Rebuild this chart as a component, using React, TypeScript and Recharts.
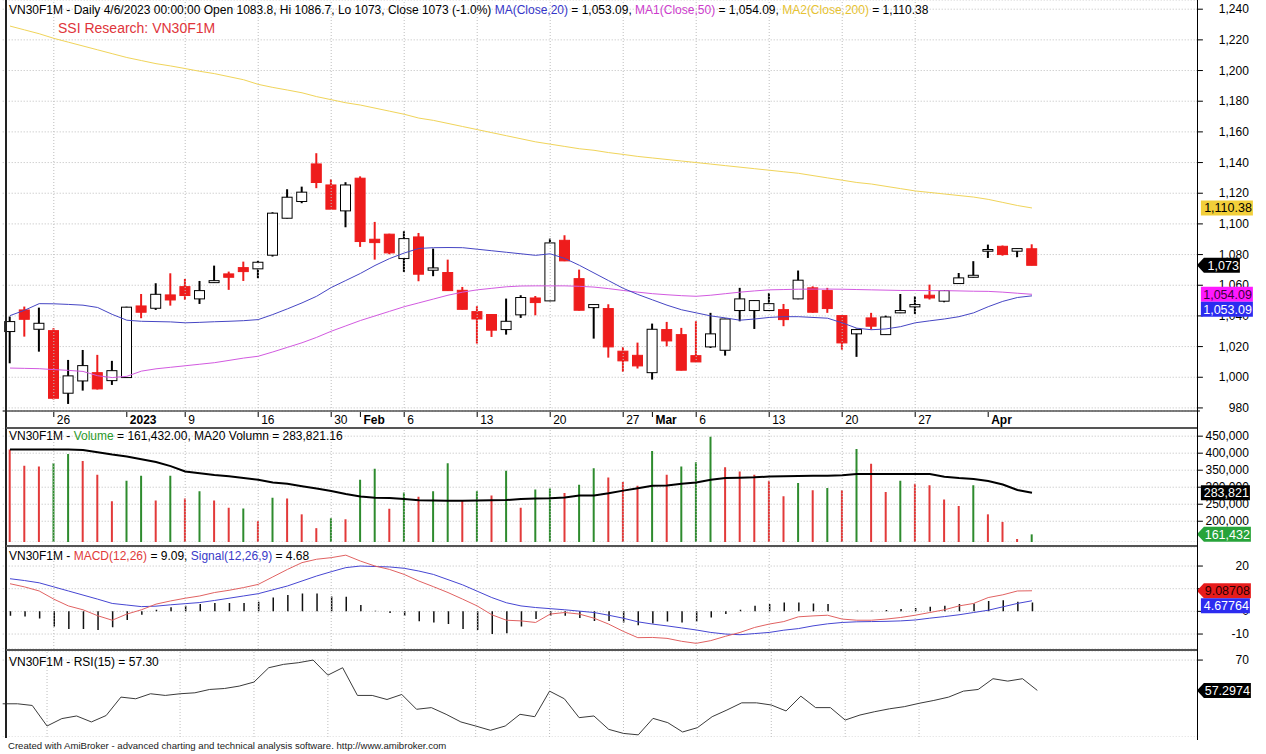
import React from "react";
import {
  ComposedChart,
  Bar,
  Line,
  XAxis,
  YAxis,
  CartesianGrid,
  ReferenceLine,
  Cell,
} from "recharts";

const FONT = '"Liberation Sans", Arial, sans-serif';
const RED = "#ee1c1c";
const GREEN = "#2e8b2e";
const GRID = "#bdbdbd";

// x axis: bar index -> label (weekly Mondays + month starts)
const tickIdx = [3, 8, 12, 17, 22, 24, 27, 32, 37, 42, 44, 47, 52, 57, 62, 67];
const tickLab = ["26", "2023", "9", "16", "30", "Feb", "6", "13", "20", "27", "Mar", "6", "13", "20", "27", "Apr"];
const boldLab = ["2023", "Feb", "Mar", "Apr"];
const gridIdx = [3, 12, 17, 22, 27, 32, 37, 42, 47, 52, 57, 62];

// OHLC, 21 Dec 2022 .. 6 Apr 2023
const opens = [
  1029.8, 1043.9, 1031.3, 1030.4, 989.6, 997.6, 1003.0, 997.8, 999.8, 1046.5,
  1045.0, 1053.7, 1059.1, 1051.1, 1061.7, 1067.4, 1071.5, 1070.7, 1079.6, 1103.7,
  1114.6, 1139.1, 1125.4, 1108.5, 1129.8, 1090.0, 1093.3, 1077.4, 1091.5, 1069.8,
  1068.3, 1056.7, 1042.8, 1040.9, 1031.1, 1040.7, 1051.7, 1049.8, 1089.3, 1064.3,
  1045.4, 1044.8, 1017.0, 1014.3, 1003.0, 1031.1, 1027.8, 1014.1, 1019.8, 1017.6,
  1043.5, 1043.5, 1043.5, 1044.1, 1051.1, 1058.3, 1056.5, 1040.2, 1028.3, 1038.7,
  1027.8, 1042.0, 1045.9, 1053.5, 1049.6, 1061.1, 1065.2, 1082.2, 1085.4, 1082.2,
  1083.8,
];
const highs = [
  1039.6, 1046.1, 1045.4, 1032.0, 1011.3, 1017.8, 1014.6, 1010.7, 1046.0, 1054.3,
  1061.3, 1067.8, 1064.1, 1062.8, 1072.8, 1068.9, 1075.4, 1075.9, 1107.6, 1122.6,
  1124.3, 1146.1, 1129.1, 1127.2, 1131.0, 1101.3, 1093.6, 1095.2, 1094.1, 1083.9,
  1076.7, 1058.9, 1046.3, 1041.2, 1051.3, 1053.5, 1053.0, 1090.4, 1092.6, 1070.2,
  1047.6, 1047.6, 1019.8, 1022.6, 1035.0, 1036.1, 1032.2, 1036.5, 1042.0, 1038.2,
  1058.3, 1050.2, 1055.0, 1047.8, 1069.6, 1059.3, 1058.3, 1040.4, 1031.7, 1042.0,
  1040.2, 1054.3, 1052.8, 1060.4, 1056.7, 1068.0, 1075.7, 1086.5, 1085.9, 1083.9,
  1086.7,
];
const lows = [
  1009.1, 1026.5, 1016.7, 985.5, 982.6, 991.3, 992.0, 995.0, 999.6, 1038.5,
  1043.9, 1046.7, 1050.4, 1047.8, 1061.5, 1057.0, 1062.8, 1064.6, 1078.7, 1103.5,
  1113.5, 1123.3, 1109.4, 1097.8, 1085.0, 1076.7, 1080.2, 1068.7, 1062.6, 1065.9,
  1056.3, 1044.1, 1022.0, 1026.3, 1027.8, 1038.7, 1040.4, 1049.6, 1075.7, 1043.5,
  1025.2, 1012.8, 1003.5, 1005.7, 998.5, 1020.2, 1004.4, 1009.8, 1019.1, 1014.1,
  1036.5, 1031.5, 1043.3, 1033.3, 1050.9, 1042.0, 1042.0, 1018.0, 1013.3, 1031.1,
  1027.6, 1041.8, 1041.3, 1050.7, 1048.9, 1060.9, 1065.0, 1077.8, 1079.3, 1078.3,
  1073.0,
];
const closes = [
  1036.3, 1037.8, 1035.2, 986.3, 1000.9, 1007.6, 992.4, 1004.3, 1045.7, 1042.4,
  1054.1, 1050.4, 1053.3, 1056.5, 1063.0, 1065.2, 1068.9, 1075.0, 1107.0, 1117.4,
  1120.7, 1127.0, 1109.6, 1125.4, 1088.5, 1087.8, 1081.1, 1090.4, 1067.2, 1071.3,
  1056.5, 1044.3, 1038.0, 1030.7, 1036.5, 1052.0, 1048.7, 1087.6, 1075.9, 1043.7,
  1047.4, 1019.8, 1010.7, 1007.4, 1031.3, 1023.7, 1004.6, 1010.0, 1028.3, 1038.0,
  1051.1, 1050.0, 1048.0, 1037.6, 1063.3, 1042.4, 1044.8, 1022.4, 1031.1, 1033.3,
  1039.3, 1043.5, 1047.4, 1051.7, 1056.5, 1064.8, 1066.5, 1083.3, 1080.0, 1083.9,
  1073.0,
];
const ma20 = [
  1040.2, 1043.7, 1048.0, 1047.9, 1047.5, 1047.0, 1045.5, 1041.0, 1037.2, 1036.5,
  1036.3, 1036.1, 1035.5, 1035.8, 1036.2, 1036.5, 1036.9, 1037.6, 1040.9, 1044.6,
  1048.5, 1052.8, 1058.5, 1063.1, 1067.7, 1072.9, 1077.4, 1081.0, 1084.0, 1084.5,
  1084.6, 1084.5, 1083.5, 1082.5, 1081.5, 1080.5, 1079.5, 1080.5, 1077.5, 1073.0,
  1068.0, 1063.0, 1058.0, 1054.0, 1050.5, 1047.0, 1044.0, 1042.0, 1040.0, 1038.7,
  1037.2, 1038.0, 1039.0, 1039.5, 1039.5, 1039.0, 1038.5, 1035.5, 1032.0, 1031.0,
  1031.5, 1033.0, 1035.5, 1036.8, 1038.0, 1039.5, 1042.0, 1046.0, 1049.5, 1052.0,
  1053.09,
];
const ma50 = [
  1006.0, 1005.8, 1005.6, 1005.0, 1004.5, 1003.8, 1001.0, 999.8, 1000.6, 1004.0,
  1005.5, 1006.5, 1007.5, 1008.5, 1009.5, 1011.0, 1012.5, 1013.7, 1016.5, 1019.5,
  1022.5, 1026.0, 1030.0, 1033.5, 1037.0, 1040.0, 1043.0, 1046.0, 1048.5, 1051.0,
  1053.5, 1055.5, 1057.0, 1058.0, 1059.0, 1059.5, 1059.6, 1059.6, 1059.6, 1059.3,
  1058.8, 1057.8, 1056.6, 1055.5, 1054.5, 1053.8, 1053.2, 1052.8, 1053.5, 1054.5,
  1055.5, 1056.3, 1057.0, 1057.2, 1057.4, 1057.5, 1057.5, 1057.4, 1057.2, 1057.0,
  1056.8, 1056.6, 1056.6, 1056.5, 1056.5, 1056.3, 1056.1, 1056.0, 1055.5, 1054.8,
  1054.09,
];
const ma200 = [
  1229.0, 1226.5, 1224.0, 1221.0, 1218.5, 1216.0, 1213.5, 1211.0, 1208.5, 1206.5,
  1204.5, 1203.0, 1201.3, 1199.5, 1198.0, 1196.0, 1194.0, 1191.0, 1189.0, 1187.3,
  1185.5, 1183.0, 1181.0, 1179.0, 1177.5, 1175.5, 1173.5, 1171.5, 1169.0, 1167.5,
  1165.5, 1163.5, 1161.5, 1159.5, 1157.5, 1155.5, 1153.5, 1152.0, 1150.5, 1149.0,
  1148.0, 1146.5, 1145.3, 1144.0, 1143.0, 1142.0, 1141.0, 1140.0, 1139.0, 1138.0,
  1137.0, 1136.0, 1135.0, 1134.0, 1133.0, 1131.5, 1130.0, 1128.5, 1127.0, 1126.0,
  1124.5, 1123.0, 1121.5, 1120.5, 1119.5, 1118.5, 1117.5, 1116.0, 1114.0, 1112.0,
  1110.38,
];

// volume (thousands), bar colour flag (1 = green), MA20 of volume
const volK = [
  411.0, 362.8, 360.9, 370.5, 397.7, 377.3, 336.6, 259.1, 319.2, 333.7,
  261.0, 333.7, 266.9, 288.2, 261.0, 239.7, 237.8, 200.0, 268.8, 266.9,
  220.3, 179.7, 208.7, 205.8, 322.1, 354.1, 236.8, 284.3, 271.7, 288.2,
  370.5, 261.0, 288.2, 275.6, 348.3, 239.7, 293.0, 295.9, 283.3, 307.6,
  356.0, 328.9, 315.3, 304.0, 406.4, 336.6, 360.9, 373.4, 448.0, 358.9,
  346.3, 336.6, 319.2, 273.6, 312.4, 291.1, 297.9, 291.1, 412.2, 368.6,
  286.2, 319.2, 310.5, 305.6, 264.0, 244.6, 305.6, 220.3, 198.0, 147.7,
  161.432,
];
const volUp = [
  0, 0, 0, 1, 1, 0, 0, 0, 1, 1,
  0, 1, 0, 1, 0, 0, 1, 0, 1, 0,
  0, 0, 1, 0, 1, 1, 0, 1, 0, 1,
  1, 0, 1, 0, 1, 0, 1, 1, 0, 1,
  1, 0, 0, 0, 1, 0, 1, 1, 1, 0,
  0, 0, 0, 0, 1, 0, 1, 0, 1, 0,
  0, 1, 0, 0, 0, 0, 1, 0, 0, 0,
  1,
];
const volMaK = [
  411.0, 411.0, 411.0, 411.0, 411.0, 409.5, 403.0, 396.0, 390.0, 382.0,
  374.0, 362.0, 346.0, 341.0, 336.0, 332.0, 327.0, 322.0, 314.0, 310.0,
  303.0, 296.0, 289.0, 280.0, 273.0, 269.0, 268.0, 265.0, 262.0, 261.0,
  260.0, 260.5, 261.0, 261.5, 262.5, 265.0, 266.5, 267.5, 270.0, 275.5,
  276.0, 282.0, 290.0, 297.0, 304.5, 305.0, 310.0, 314.0, 322.0, 327.0,
  328.0, 329.0, 331.5, 332.5, 333.0, 333.5, 334.0, 335.0, 338.5, 339.0,
  339.0, 339.0, 339.0, 338.5, 331.0, 327.0, 324.0, 318.0, 308.0, 292.0,
  283.821,
];

const macd = [
  12.2, 10.8, 9.0, 5.4, 2.4, 0.7, -1.9, -3.9, -1.2, 0.7,
  3.2, 4.6, 5.8, 6.8, 8.3, 9.3, 10.5, 11.9, 15.2, 18.5,
  21.5, 23.0, 23.7, 24.8, 22.2, 20.0, 18.5, 16.3, 13.4, 10.9,
  8.3, 5.4, 2.4, -1.5, -3.9, -4.2, -4.9, -1.2, -0.5, -1.2,
  -3.0, -5.6, -8.8, -11.6, -11.5, -11.9, -13.2, -14.1, -12.9, -11.0,
  -9.3, -7.1, -5.6, -4.5, -2.4, -2.0, -1.7, -3.4, -3.9, -3.9,
  -3.4, -2.7, -1.7, -0.5, 0.7, 2.4, 3.5, 6.1, 7.3, 9.0,
  9.09,
];
const signal = [
  14.4, 13.6, 12.6, 10.8, 9.0, 7.2, 5.4, 3.5, 2.8, 2.1,
  2.3, 2.9, 3.4, 3.9, 4.8, 5.8, 6.8, 7.8, 9.5, 11.2,
  13.4, 15.6, 17.5, 19.3, 20.0, 19.8, 19.6, 19.0, 17.8, 16.3,
  14.0, 11.7, 8.9, 6.1, 3.8, 2.4, 1.7, 1.2, 0.7, 0.1,
  -0.5, -1.7, -3.0, -4.6, -5.6, -6.4, -7.3, -8.2, -9.3, -10.0,
  -10.3, -9.8, -9.3, -8.3, -7.6, -6.4, -5.5, -4.9, -4.6, -4.5,
  -4.4, -4.2, -3.8, -3.0, -2.3, -1.5, -0.5, 0.5, 2.0, 3.5,
  4.68,
];
const hist = [
  -1.9, -2.3, -3.1, -6.7, -7.8, -7.8, -8.2, -7.0, -3.8, -1.5,
  0.7, 1.8, 2.5, 3.2, 3.7, 3.7, 3.7, 4.2, 6.1, 7.2,
  7.9, 7.9, 6.6, 6.4, 2.8, 0.3, -0.7, -1.9, -4.4, -4.9,
  -5.6, -7.8, -8.2, -10.0, -9.7, -6.7, -3.4, -1.9, -1.9, -2.9,
  -4.2, -4.2, -4.9, -6.1, -5.3, -4.5, -4.9, -4.5, -2.7, -1.2,
  0.7, 2.5, 3.2, 3.9, 3.9, 3.5, 3.2, 0.3, 0.3, 0.3,
  0.6, 1.0, 1.5, 2.0, 2.5, 3.2, 3.5, 4.6, 4.9, 4.3,
  3.9,
];
const rsi = [
  51.7, 51.7, 51.0, 42.4, 45.5, 46.6, 44.1, 46.8, 54.5, 53.8,
  55.9, 55.2, 55.9, 56.3, 57.7, 58.1, 59.1, 60.8, 66.8, 68.2,
  68.9, 70.0, 63.7, 66.8, 55.2, 55.2, 53.5, 55.6, 49.4, 50.1,
  47.3, 44.1, 42.4, 40.6, 42.4, 47.3, 46.3, 57.0, 53.8, 45.9,
  46.6, 41.0, 39.3, 38.7, 45.6, 43.8, 39.9, 41.7, 46.3, 49.1,
  52.1, 52.1, 51.2, 48.7, 54.9, 50.1, 50.1, 44.9, 47.0, 48.4,
  49.6, 50.5, 51.9, 53.1, 54.5, 57.0, 57.7, 62.2, 61.2, 62.2,
  57.3,
];

const priceTicks = [980, 1000, 1020, 1040, 1060, 1080, 1100, 1120, 1140, 1160, 1180, 1200, 1220, 1240];
const volTicks = [200000, 250000, 300000, 350000, 400000, 450000];
const macdTicks = [-10, 0, 10, 20];
const rsiTicks = [70];

const priceDomain = [978, 1246];
const volDomain = [139000, 474000];
const macdDomain = [-16.6, 28.4];
const rsiDomain = [37.8, 73.8];

// 71 bars plus empty slots to the right edge
const SLOTS = 82;
const rows = Array.from({ length: SLOTS }, (_, i) =>
  i < opens.length
    ? {
        i,
        o: opens[i],
        h: highs[i],
        l: lows[i],
        c: closes[i],
        hl: [lows[i], highs[i]],
        ma20: ma20[i],
        ma50: ma50[i],
        ma200: ma200[i],
        v: volK[i] * 1000,
        up: volUp[i],
        vma: volMaK[i] * 1000,
        macd: macd[i],
        signal: signal[i],
        hist: hist[i],
        rsi: rsi[i],
      }
    : { i }
);

const W = 1266;
const YW = 60;
const MARGIN = { top: 0, right: 6.1, bottom: 0, left: 2.7 };

const Candle = (props: any) => {
  const { x, y, width, height, payload } = props;
  if (!payload || payload.o == null) return <g />;
  const { o, h, l, c } = payload;
  const cx = x + width / 2;
  const k = h === l ? 0 : height / (h - l);
  const yO = y + (h - o) * k;
  const yC = y + (h - c) * k;
  const up = c >= o;
  const top = Math.min(yO, yC);
  const bh = Math.max(Math.abs(yO - yC), 1.5);
  const col = up ? "#000" : RED;
  return (
    <g>
      <line x1={cx} x2={cx} y1={y} y2={y + height} stroke={col} strokeWidth={2} />
      <rect x={cx - 5} y={top} width={10} height={bh} fill={up ? "#fff" : RED} stroke={col} strokeWidth={1} />
    </g>
  );
};

const DateTick = (p: any) => {
  const lab = tickLab[tickIdx.indexOf(p.payload.value)];
  const bold = boldLab.includes(lab);
  return (
    <g>
      <line x1={p.x} x2={p.x} y1={p.y + 1} y2={p.y + 6} stroke="#000" />
      <text x={p.x + 3} y={p.y + 12.6} fontSize={12} fontWeight={bold ? "bold" : "normal"} fontFamily={FONT} fill="#000">
        {lab}
      </text>
    </g>
  );
};

const fmtNum = (v: number) => v.toLocaleString("en-US");

function yTick(fmt: (v: number) => string) {
  return (p: any) => (
    <g>
      <line x1={p.x - 3} x2={p.x + 3} y1={p.y} y2={p.y} stroke="#000" />
      <text x={p.x + 49} y={p.y + 4} textAnchor="end" fontSize={12} fontFamily={FONT} fill="#000">
        {fmt(p.payload.value)}
      </text>
    </g>
  );
}

// value tag at the right axis, drawn on the line's y from the y scale
function badge(text: string, bg: string, fg: string, w: number, arrow: boolean, dy = 0) {
  return (p: any) => {
    const vb = p.viewBox || { x: 0, y: 0, width: 0 };
    const ax = vb.x + vb.width - 3;
    const cy = vb.y + dy;
    const x0 = arrow ? ax + 7 : ax + 4;
    const d = arrow
      ? `M${ax},${cy} L${x0},${cy - 7.5} L${x0 + w},${cy - 7.5} L${x0 + w},${cy + 7.5} L${x0},${cy + 7.5} Z`
      : `M${x0},${cy - 7.5} h${w} v15 h${-w} Z`;
    return (
      <g>
        <path d={d} fill={bg} />
        <text x={x0 + w - 1} y={cy + 4.5} textAnchor="end" fontSize={12.5} fontFamily={FONT} fill={fg}>
          {text}
        </text>
      </g>
    );
  };
}

const weekLines = () =>
  gridIdx.map((g) => <ReferenceLine key={"g" + g} x={g} stroke={GRID} strokeDasharray="1 2" />);

const line = (key: string, color: string, width = 1) => (
  <Line
    dataKey={key}
    type="linear"
    stroke={color}
    strokeWidth={width}
    dot={false}
    activeDot={false}
    isAnimationActive={false}
  />
);

const rightAxis = (domain: number[], ticks: number[], fmt: (v: number) => string) => (
  <YAxis
    orientation="right"
    width={YW}
    domain={domain}
    allowDataOverflow
    ticks={ticks}
    interval={0}
    tick={yTick(fmt)}
    tickSize={0}
    tickMargin={0}
    axisLine={false}
    tickLine={false}
  />
);

// transparent chart on top of a pane that only carries the value tags
function Tags({ top, height, bottom = 0, domain, children }: any) {
  return (
    <div style={{ position: "absolute", left: 0, top, pointerEvents: "none" }}>
      <ComposedChart
        width={W}
        height={height}
        data={rows}
        margin={{ ...MARGIN, right: MARGIN.right + YW, bottom }}
      >
        <XAxis dataKey="i" type="category" hide />
        <YAxis hide domain={domain} allowDataOverflow />
        {children}
      </ComposedChart>
    </div>
  );
}

const abs = (top: number): React.CSSProperties => ({ position: "absolute", left: 0, top });

const txt = (left: number, top: number, size: number): React.CSSProperties => ({
  position: "absolute",
  left,
  top,
  fontSize: size,
  lineHeight: `${size + 2}px`,
  whiteSpace: "nowrap",
  color: "#000",
});

export default function App() {
  return (
    <div
      style={{
        position: "absolute",
        left: 0,
        top: 0,
        width: W,
        height: 754,
        background: "#fff",
        fontFamily: FONT,
        overflow: "hidden",
      }}
    >
      {/* price pane */}
      <div style={abs(0)}>
        <ComposedChart width={W} height={427} data={rows} margin={MARGIN}>
          <CartesianGrid vertical={false} stroke={GRID} strokeDasharray="1 2" />
          {weekLines()}
          <XAxis
            dataKey="i"
            type="category"
            ticks={tickIdx}
            interval={0}
            tick={<DateTick />}
            tickLine={false}
            tickSize={0}
            tickMargin={0}
            height={16}
            axisLine={{ stroke: "#000" }}
          />
          {rightAxis(priceDomain, priceTicks, fmtNum)}
          {line("ma200", "#f0d45a")}
          {line("ma50", "#d25ae0")}
          {line("ma20", "#4646c4")}
          <Bar dataKey="hl" shape={<Candle />} barSize={14} isAnimationActive={false} />
        </ComposedChart>
      </div>

      {/* volume pane */}
      <div style={abs(428)}>
        <ComposedChart width={W} height={114} data={rows} margin={MARGIN}>
          <CartesianGrid vertical={false} stroke={GRID} strokeDasharray="1 2" />
          {weekLines()}
          <XAxis dataKey="i" type="category" hide />
          {rightAxis(volDomain, volTicks, fmtNum)}
          <Bar dataKey="v" barSize={2} isAnimationActive={false}>
            {rows.map((r: any) => (
              <Cell key={r.i} fill={r.up ? GREEN : "#e23a3a"} />
            ))}
          </Bar>
          {line("vma", "#000", 2)}
        </ComposedChart>
      </div>

      {/* MACD pane */}
      <div style={abs(547)}>
        <ComposedChart width={W} height={102} data={rows} margin={MARGIN}>
          <CartesianGrid vertical={false} stroke={GRID} strokeDasharray="1 2" />
          {weekLines()}
          <XAxis dataKey="i" type="category" hide />
          {rightAxis(macdDomain, macdTicks, (v) => String(v))}
          <Bar dataKey="hist" barSize={1.5} fill="#111" isAnimationActive={false} />
          {line("signal", "#4646d2")}
          {line("macd", "#e06262")}
        </ComposedChart>
      </div>

      {/* RSI pane */}
      <div style={abs(651)}>
        <ComposedChart width={W} height={86} data={rows} margin={MARGIN}>
          <CartesianGrid vertical={false} stroke={GRID} strokeDasharray="1 2" />
          {weekLines()}
          <XAxis dataKey="i" type="category" hide />
          {rightAxis(rsiDomain, rsiTicks, (v) => String(v))}
          {line("rsi", "#3a3a3a")}
        </ComposedChart>
      </div>

      {/* value tags on top of the axis labels */}
      <Tags top={0} height={427} bottom={16} domain={priceDomain}>
        <ReferenceLine y={1110.38} stroke="none" label={badge("1,110.38", "#f2cf3a", "#000", 52, false)} />
        <ReferenceLine y={1073} stroke="none" label={badge("1,073", "#000", "#fff", 36, true)} />
        <ReferenceLine y={1054.09} stroke="none" label={badge("1,054.09", "#ff19ff", "#3a003a", 52, false)} />
        <ReferenceLine y={1053.09} stroke="none" label={badge("1,053.09", "#2c2cf0", "#fff", 52, false, 13.5)} />
      </Tags>
      <Tags top={428} height={114} domain={volDomain}>
        <ReferenceLine y={283821} stroke="none" label={badge("283,821", "#000", "#fff", 49, false)} />
        <ReferenceLine y={161432} stroke="none" label={badge("161,432", "#27a33a", "#fff", 47, true)} />
      </Tags>
      <Tags top={547} height={102} domain={macdDomain}>
        <ReferenceLine y={9.08708} stroke="none" label={badge("9.08708", "#e81c1c", "#2a0000", 47, true)} />
        <ReferenceLine y={4.67764} stroke="none" label={badge("4.67764", "#2c2cf0", "#fff", 49, false, 5)} />
      </Tags>
      <Tags top={651} height={86} domain={rsiDomain}>
        <ReferenceLine y={57.2974} stroke="none" label={badge("57.2974", "#000", "#fff", 47, true)} />
      </Tags>

      {/* frame */}
      <div style={{ position: "absolute", left: 5, top: 0, width: 2, height: 738, background: "#222" }} />
      <div style={{ position: "absolute", left: 1196.5, top: 0, width: 1.5, height: 740, background: "#000" }} />
      <div style={{ position: "absolute", left: 6, top: 426.5, width: 1191, height: 2, background: "#555" }} />
      <div style={{ position: "absolute", left: 6, top: 544.5, width: 1191, height: 2, background: "#555" }} />
      <div style={{ position: "absolute", left: 6, top: 649, width: 1191, height: 2, background: "#555" }} />

      {/* titles */}
      <div style={txt(9, 3, 12)}>
        VN30F1M - Daily 4/6/2023 00:00:00 Open 1083.8, Hi 1086.7, Lo 1073, Close 1073 (-1.0%){" "}
        <span style={{ color: "#3535c8" }}>MA(Close,20)</span> = 1,053.09,{" "}
        <span style={{ color: "#cc3ccc" }}>MA1(Close,50)</span> = 1,054.09,{" "}
        <span style={{ color: "#e6c232" }}>MA2(Close,200)</span> = 1,110.38
      </div>
      <div style={{ ...txt(58, 20, 14), color: "#e0353b" }}>SSI Research: VN30F1M</div>
      <div style={txt(9, 429, 12)}>
        VN30F1M - <span style={{ color: "#2a9a2a" }}>Volume</span> = 161,432.00, MA20 Volumn = 283,821.16
      </div>
      <div style={txt(9, 549, 12)}>
        VN30F1M - <span style={{ color: "#e03a3a" }}>MACD(12,26)</span> = 9.09,{" "}
        <span style={{ color: "#3a3ac8" }}>Signal(12,26,9)</span> = 4.68
      </div>
      <div style={txt(9, 655, 12)}>VN30F1M - RSI(15) = 57.30</div>
      <div style={{ ...txt(8, 740, 9.6), color: "#222" }}>
        Created with AmiBroker - advanced charting and technical analysis software. http://www.amibroker.com
      </div>
    </div>
  );
}
